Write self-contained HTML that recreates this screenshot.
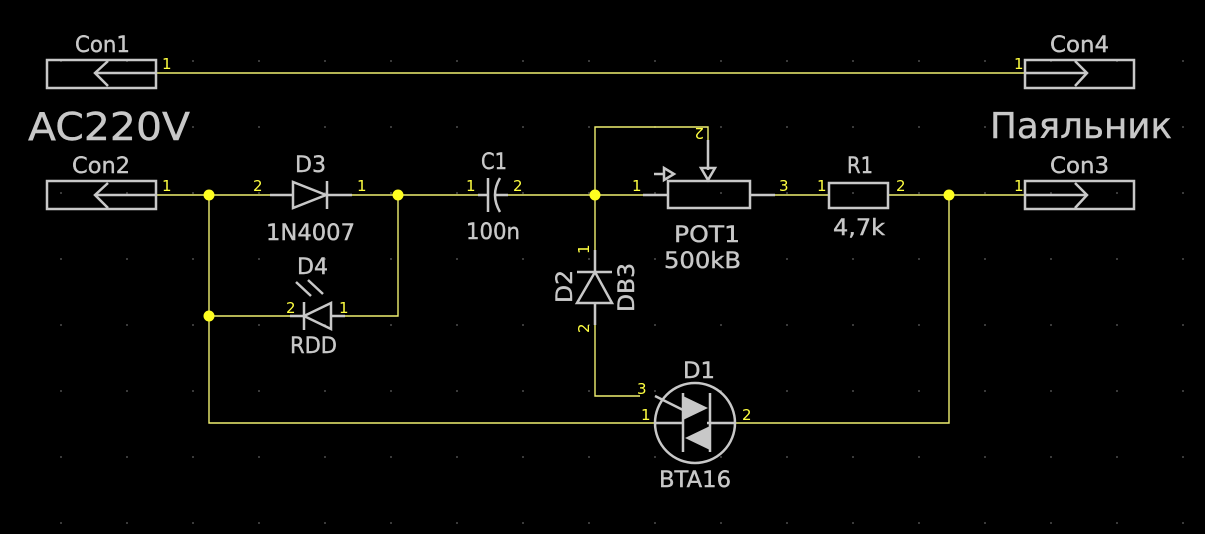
<!DOCTYPE html>
<html><head><meta charset="utf-8"><style>
html,body{margin:0;padding:0;background:#000;}
svg{display:block;}
text{font-family:"DejaVu Sans","Liberation Sans",sans-serif;}
.g text{fill:#c8c8c8;font-size:22px;stroke:#c8c8c8;stroke-width:0.4;}
.y text{fill:#ffff40;font-size:15px;}
</style></head><body>
<svg width="1205" height="534" viewBox="0 0 1205 534" xmlns="http://www.w3.org/2000/svg">
<defs><pattern id="grid" x="-6" y="-6" width="66" height="66" patternUnits="userSpaceOnUse"><rect x="0" y="0" width="2" height="2" fill="#3a3a3a"/></pattern></defs>
<rect width="1205" height="534" fill="#000"/>
<rect width="1205" height="534" fill="url(#grid)"/>
<g stroke="#f0f070" stroke-width="1.4" fill="none">
<line x1="156" y1="73" x2="1025" y2="73"/>
<line x1="156" y1="195" x2="270" y2="195"/>
<line x1="352" y1="195" x2="478" y2="195"/>
<line x1="508" y1="195" x2="643" y2="195"/>
<line x1="775" y1="195" x2="829" y2="195"/>
<line x1="888" y1="195" x2="1025" y2="195"/>
<polyline points="209,195 209,423 655,423"/>
<polyline points="209,316 290,316"/>
<polyline points="345,316 398,316 398,195"/>
<polyline points="735,423 949,423 949,195"/>
<polyline points="595,195 595,127 708,127 708,140"/>
<polyline points="595,195 595,250"/>
<polyline points="595,325 595,396 640,396"/>
</g>
<g fill="#ffff20">
<circle cx="209" cy="195" r="5.5"/><circle cx="398" cy="195" r="5.5"/>
<circle cx="209" cy="316" r="5.5"/><circle cx="595" cy="195" r="5.5"/>
<circle cx="949" cy="195" r="5.5"/>
</g>
<g stroke="#c8c8c8" stroke-width="2.5" fill="none">
<rect x="47" y="60" width="109" height="28"/>
<polyline points="156,73 95,73"/><polyline points="108,61 95,73 108,86"/>
<rect x="47" y="181" width="109" height="28"/>
<polyline points="156,195 95,195"/><polyline points="108,183 95,195 108,208"/>
<rect x="1025" y="60" width="109" height="28"/>
<polyline points="1025,73 1087,73"/><polyline points="1075,61 1087,73 1075,86"/>
<rect x="1025" y="181" width="109" height="28"/>
<polyline points="1025,195 1087,195"/><polyline points="1075,183 1087,195 1075,208"/>
<line x1="270" y1="195" x2="293" y2="195"/>
<polygon points="293,182 293,208 326,195"/>
<line x1="327" y1="181" x2="327" y2="209"/>
<line x1="327" y1="195" x2="352" y2="195"/>
<line x1="290" y1="316" x2="304" y2="316"/>
<line x1="304" y1="302" x2="304" y2="330"/>
<polygon points="304,316 331,303 331,329"/>
<line x1="331" y1="316" x2="345" y2="316"/>
<line x1="296" y1="282" x2="311" y2="296"/><line x1="308" y1="280" x2="323" y2="294"/>
<line x1="478" y1="195" x2="488" y2="195"/>
<line x1="488" y1="178" x2="488" y2="212"/>
<path d="M500,178 Q490,195 500,212"/>
<line x1="494" y1="195" x2="508" y2="195"/>
<line x1="643" y1="195" x2="668" y2="195"/>
<rect x="668" y="181" width="82" height="27"/>
<line x1="750" y1="195" x2="775" y2="195"/>
<line x1="708" y1="140" x2="708" y2="170"/>
<polygon points="701,168 715,168 708,180"/>
<line x1="654" y1="174" x2="665" y2="174"/>
<polygon points="664,168 674,174 664,180"/>
<rect x="829" y="183" width="59" height="25"/>
<line x1="595" y1="250" x2="595" y2="272"/>
<line x1="577" y1="272" x2="612" y2="272"/>
<polygon points="595,272 577,303 612,303"/>
<line x1="595" y1="303" x2="595" y2="325"/>
<circle cx="695" cy="423" r="40"/>
<line x1="655" y1="423" x2="683" y2="423"/>
<line x1="707" y1="423" x2="735" y2="423"/>
<line x1="683" y1="393" x2="683" y2="452"/>
<line x1="710" y1="393" x2="710" y2="452"/>
<line x1="655" y1="396" x2="683" y2="410"/>
</g>
<g fill="#c8c8c8">
<polygon points="683,396 683,420 708,408"/>
<polygon points="710,426 710,450 685,438"/>
</g>
<g class="g">
<text x="75" y="52" textLength="55" lengthAdjust="spacingAndGlyphs">Con1</text>
<text x="72" y="173" textLength="58" lengthAdjust="spacingAndGlyphs">Con2</text>
<text x="1050" y="52" textLength="59" lengthAdjust="spacingAndGlyphs">Con4</text>
<text x="1050" y="173" textLength="59" lengthAdjust="spacingAndGlyphs">Con3</text>
<text x="295" y="172" textLength="31" lengthAdjust="spacingAndGlyphs">D3</text>
<text x="266" y="240" textLength="89" lengthAdjust="spacingAndGlyphs">1N4007</text>
<text x="297" y="274" textLength="31" lengthAdjust="spacingAndGlyphs">D4</text>
<text x="290" y="353" textLength="47" lengthAdjust="spacingAndGlyphs">RDD</text>
<text x="481" y="169" textLength="26" lengthAdjust="spacingAndGlyphs">C1</text>
<text x="466" y="239" textLength="54" lengthAdjust="spacingAndGlyphs">100n</text>
<text x="674" y="242" textLength="66" lengthAdjust="spacingAndGlyphs">POT1</text>
<text x="664" y="268" textLength="77" lengthAdjust="spacingAndGlyphs">500kB</text>
<text x="847" y="173" textLength="26" lengthAdjust="spacingAndGlyphs">R1</text>
<text x="833" y="235" textLength="52" lengthAdjust="spacingAndGlyphs">4,7k</text>
<text x="683" y="378" textLength="32" lengthAdjust="spacingAndGlyphs">D1</text>
<text x="659" y="487" textLength="72" lengthAdjust="spacingAndGlyphs">BTA16</text>
<text transform="translate(572,303) rotate(-90)" textLength="33" lengthAdjust="spacingAndGlyphs">D2</text>
<text transform="translate(634,312) rotate(-90)" textLength="49" lengthAdjust="spacingAndGlyphs">DB3</text>
<text x="28" y="140" style="font-size:38px" textLength="162" lengthAdjust="spacingAndGlyphs">AC220V</text>
<text x="990" y="138" style="font-size:36px" textLength="182" lengthAdjust="spacingAndGlyphs">Паяльник</text>
</g>
<g class="y">
<text x="162" y="69">1</text>
<text x="162" y="191">1</text>
<text x="1014" y="69">1</text>
<text x="1014" y="191">1</text>
<text x="253" y="191">2</text>
<text x="357" y="191">1</text>
<text x="286" y="313">2</text>
<text x="339" y="313">1</text>
<text x="466" y="191">1</text>
<text x="513" y="191">2</text>
<text x="632" y="191">1</text>
<text x="779" y="191">3</text>
<text x="817" y="191">1</text>
<text x="896" y="191">2</text>
<text transform="translate(704,128) rotate(180)">2</text>
<text transform="translate(589,254) rotate(-90)">1</text>
<text transform="translate(589,333) rotate(-90)">2</text>
<text x="637" y="394">3</text>
<text x="641" y="420">1</text>
<text x="742" y="420">2</text>
</g>
</svg>
</body></html>
